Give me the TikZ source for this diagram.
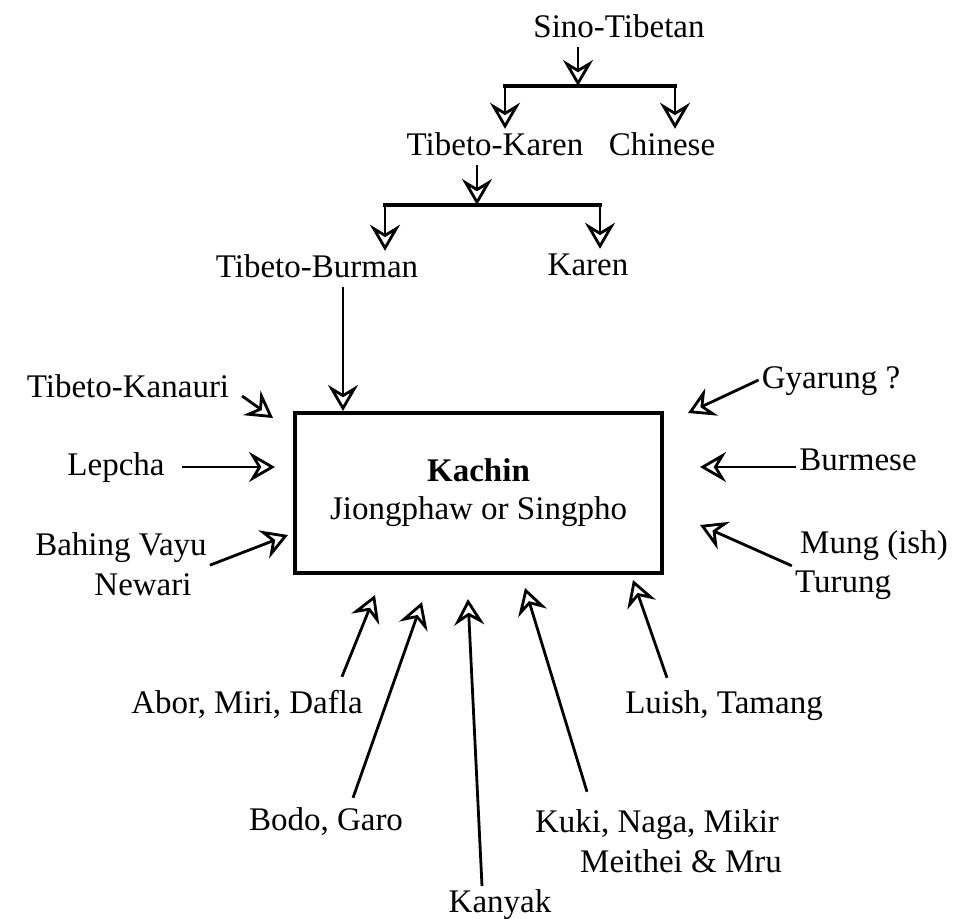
\documentclass[tikz,border=0pt]{standalone}
\usepackage{fontspec}
\setmainfont{Liberation Serif}
\usepackage{tikz}
\usetikzlibrary{calc,positioning,arrows.meta}

\begin{document}
\begin{tikzpicture}[
  x=1pt,y=-1pt,
  every node/.style={font=\fontsize{33}{38}\selectfont},
  lbl/.style={anchor=base,inner sep=3pt,text height=23pt,text depth=7pt},
  kbox/.style={draw,line width=3.2pt,minimum width=367pt,minimum height=160pt,align=center,inner sep=0pt},
  flow/.style={-{Stealth[open,length=26pt,width=30pt,inset=9pt]},line width=2.8pt},
  bar/.style={line width=3.4pt,line cap=rect},
]
\useasboundingbox (0,0) rectangle (973,918);

% family tree
\node[lbl] (sino) at (619,37) {Sino-Tibetan};
\node[lbl] (tibkar) at (495,155) {Tibeto-Karen};
\node[lbl] (chinese) at (662,155) {Chinese};
\node[lbl] (tibbur) at (317,277) {Tibeto-Burman};
\node[lbl] (karen) at (588,275) {Karen};

\coordinate (j1) at (578,86);
\coordinate (b1l) at (505,86);
\coordinate (b1r) at (675,86);
\coordinate (j2) at (477,205);
\coordinate (b2l) at (385,205);
\coordinate (b2r) at (600,205);

\draw[flow] (sino.south -| j1) -- (j1);
\draw[bar] (b1l) -- (b1r);
\draw[flow] (b1l) -- (b1l |- tibkar.north);
\draw[flow] (b1r) -- (b1r |- chinese.north);
\draw[flow] (tibkar.south -| j2) -- (j2);
\draw[bar] (b2l) -- (b2r);
\draw[flow] (b2l) -- (b2l |- tibbur.north);
\draw[flow] (b2r) -- (b2r |- karen.north);

% central box
\node[kbox] (kachin) at (478.5,493) {\textbf{Kachin}\\Jiongphaw or Singpho};

% influences
\node[lbl] (kanauri) at (128,397) {Tibeto-Kanauri};
\node[lbl] (lepcha) at (116,475) {Lepcha};
\node[lbl] (bahing) at (121,555) {Bahing Vayu};
\node[lbl] (newari) at (143,595) {Newari};
\node[lbl] (gyarung) at (831,388) {Gyarung ?};
\node[lbl] (burmese) at (858,470) {Burmese};
\node[lbl] (mung) at (874,553) {Mung (ish)};
\node[lbl] (turung) at (843,592) {Turung};
\node[lbl] (abor) at (247,713) {Abor, Miri, Dafla};
\node[lbl] (luish) at (724,713) {Luish, Tamang};
\node[lbl] (bodo) at (326,830) {Bodo, Garo};
\node[lbl] (kuki) at (657,832) {Kuki, Naga, Mikir};
\node[lbl] (meithei) at (681,872) {Meithei \& Mru};
\node[lbl] (kanyak) at (500,912) {Kanyak};

\coordinate (tTB) at (343,411);
\coordinate (tKan) at (273,418);
\coordinate (tLep) at (275,467);
\coordinate (tBah) at (288,535);
\coordinate (tGya) at (688,413);
\coordinate (tBur) at (700,467);
\coordinate (tMun) at (700,525);
\coordinate (tAbo) at (375,595);
\coordinate (tBod) at (422,602);
\coordinate (tKny) at (468,599);
\coordinate (tKuk) at (525,588);
\coordinate (tLui) at (633,580);

\draw[flow] (tibbur.south -| tTB) -- (tTB);
\draw[flow,shorten <=12pt] (kanauri.east) -- (tKan);
\draw[flow,shorten <=14pt] (lepcha.east) -- (tLep);
\draw[flow] (bahing.south east) -- (tBah);
\draw[flow] (gyarung.west) -- (tGya);
\draw[flow] (burmese.west |- tBur) -- (tBur);
\draw[flow] (turung.north west) -- (tMun);
\draw[flow] ([xshift=-24pt,yshift=10pt]abor.north east) -- (tAbo);
\draw[flow] ([xshift=27pt,yshift=6pt]bodo.north) -- (tBod);
\draw[flow] ([xshift=-18pt]kanyak.north) -- (tKny);
\draw[flow] ([xshift=-70pt,yshift=14pt]kuki.north) -- (tKuk);
\draw[flow] ([xshift=-57pt,yshift=9pt]luish.north) -- (tLui);
\end{tikzpicture}
\end{document}
